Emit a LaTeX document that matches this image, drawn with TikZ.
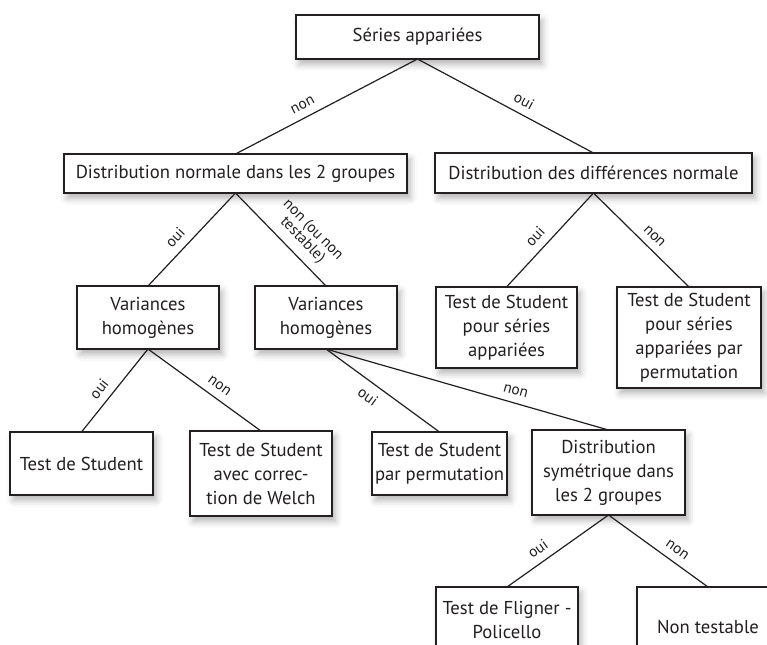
\documentclass[tikz,border=0pt]{standalone}
\usepackage{fontspec}
\setmainfont{PT Sans}
\usetikzlibrary{shadows.blur}
\definecolor{ink}{HTML}{231F20}
\tikzset{
  box/.style={draw=ink, line width=1.1pt, fill=white, inner sep=0pt, outer sep=0pt,
    align=center, text=ink, font=\fontsize{14}{18}\selectfont,
    blur shadow={shadow xshift=2.5pt, shadow yshift=-4pt, shadow blur radius=5pt, shadow opacity=30}},
  edge/.style={draw=ink, line width=0.9pt},
  lab/.style={font=\fontsize{11.5}{11}\selectfont, text=ink, sloped, inner sep=1.5pt},
}
\newcommand\mkbox[6]{\node[box, minimum width={(#4-#2)*0.75pt}, minimum height={(#5-#3)*0.75pt}] (#1) at ({(#2+#4)/2},{-(#3+#5)/2}) {#6};}
\begin{document}
\begin{tikzpicture}[x=0.75pt,y=0.75pt]
\useasboundingbox (0,0) rectangle (767,-644);
\mkbox{b1}{296}{15}{539}{59}{Séries appariées}
\mkbox{b2}{64}{154}{407}{193}{Distribution normale dans les 2 groupes}
\mkbox{b3}{435}{153}{752}{193}{Distribution des différences normale}
\mkbox{b4}{77}{286}{219}{349}{Variances\\homogènes}
\mkbox{b5}{255}{286}{397}{349}{Variances\\homogènes}
\mkbox{b6}{436}{287}{577}{368}{Test de Student\\pour séries\\appariées}
\mkbox{b7}{617}{287}{761}{388}{Test de Student\\pour séries\\appariées par\\permutation}
\mkbox{b8}{10}{432}{153}{495}{Test de Student}
\mkbox{b9}{190}{431}{332}{516}{Test de Student\\avec correc-\\tion de Welch}
\mkbox{b10}{372}{432}{507}{495}{Test de Student\\par permutation}
\mkbox{b11}{532}{430}{685}{515}{Distribution\\symétrique dans\\les 2 groupes}
\mkbox{b12}{436}{587}{578}{653}{Test de Fligner -\\Policello}
\mkbox{b13}{637}{587}{779}{667}{Non testable}

\draw[edge] (b2.north) -- node[lab, pos=0.4, above=4pt]{non} (b1.south);
\draw[edge] (b1.south) -- node[lab, pos=0.57, above=4pt]{oui} (b3.north);
\draw[edge] (b4.north) -- node[lab, pos=0.42, above=4pt]{oui} (b2.south);
\draw[edge] (b2.south) -- node[lab, pos=0.62, above=4pt, align=center]{non (ou non\\testable)} (b5.north);
\draw[edge] (b6.north) -- node[lab, pos=0.44, above=4pt]{oui} (b3.south);
\draw[edge] (b3.south) -- node[lab, pos=0.55, above=4pt]{non} (b7.north);
\draw[edge] (b8.north) -- node[lab, pos=0.42, above=4pt]{oui} (b4.south);
\draw[edge] (b4.south) -- node[lab, pos=0.57, above=4pt]{non} (b9.north);
\draw[edge] (b5.south) -- node[lab, pos=0.44, below=4pt]{oui} (b10.north);
\draw[edge] (b5.south) -- node[lab, pos=0.66, above=4pt]{non} (b11.north);
\draw[edge] (b12.north) -- node[lab, pos=0.38, above=4pt]{oui} (b11.south);
\draw[edge] (b11.south) -- node[lab, pos=0.62, above=4pt]{non} (b13.north);
\end{tikzpicture}
\end{document}
